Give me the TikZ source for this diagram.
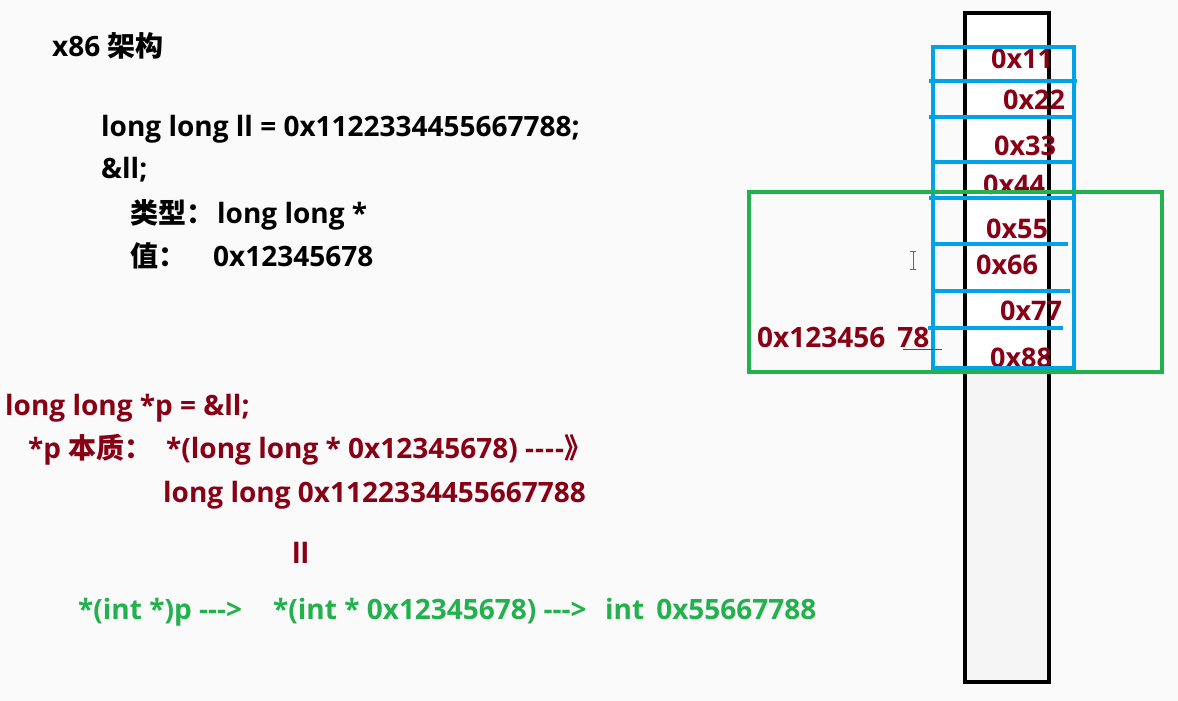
\documentclass[tikz,border=0pt]{standalone}
\usepackage{fontspec}
\setmainfont{Open Sans}
\newfontfamily\cjk{Noto Sans CJK SC}
\usepackage{tikz}
\usetikzlibrary{positioning}

\definecolor{memred}{RGB}{136,0,21}
\definecolor{memblue}{RGB}{0,162,232}
\definecolor{memgreen}{RGB}{34,177,76}

\tikzset{
    codetxt/.style={anchor=base west, inner sep=0pt, font=\bfseries\fontsize{28}{34}\selectfont},
    cellval/.style={anchor=base, inner sep=0pt, text=memred, font=\bfseries\fontsize{27}{32}\selectfont},
    blueline/.style={draw=memblue, line width=4pt},
}

\newcommand{\bytecell}[3]{
    \node[cellval] (cell#1) at (#2,#3) {0x#1};
}

\begin{document}
\begin{tikzpicture}[x=1pt,y=-1pt]

\useasboundingbox[fill=white!98!black] (0,0) rectangle (1178,701);

% -------------------------
% Memory
% -------------------------
\draw[line width=4pt, fill=white] (965,13) rectangle (1049,682);
\fill[black!4] (967,374) rectangle (1047,680);

\bytecell{11}{1022}{69}
\bytecell{22}{1034}{110}
\bytecell{33}{1025}{155}
\bytecell{44}{1014}{194}
\bytecell{55}{1017}{238}
\bytecell{66}{1007}{274}
\bytecell{77}{1031}{320}
\bytecell{88}{1021}{367}

\draw[blueline] (933,47) rectangle (1074,368);
\foreach \ly/\lx/\rx in {81/929/1077, 117/929/1075, 162/933/1073, 198/929/1075,
                         244/933/1068, 291/933/1070, 328/928/1063} {
    \draw[blueline] (\lx,\ly) -- (\rx,\ly);
}

% the int window
\draw[draw=memgreen, line width=4pt] (749,192) rectangle (1162,372);

\node[codetxt, text=memred] (addr) at (757,347) {0x123456\hspace{12pt}78};
\coordinate (ulstart) at (903,349);
\coordinate (ulend) at (942,349);
\draw[black!70, line width=1pt] (ulstart) -- (ulend);

% mouse cursor
\draw[black!60, line width=1pt] (913,251) -- (913,269)
    (910,251) -- (916,251) (910,269) -- (916,269);

% -------------------------
% Declarations
% -------------------------
\node[codetxt] (arch) at (52,57) {x86 {\cjk 架构}};
\node[codetxt] (decl) at (101,136) {long long ll = 0x1122334455667788;};
\node[codetxt] (addrof) at (101,178) {\&ll;};
\node[codetxt] (typelbl) at (130,223) {\cjk 类型：};
\node[codetxt] (typeval) at (217,223) {long long *};
\node[codetxt] (vallbl) at (130,266) {\cjk 值：};
\node[codetxt] (valval) at (213,266) {0x12345678};

% -------------------------
% Dereference
% -------------------------
\node[codetxt, text=memred] (ptr) at (5,415) {long long *p = \&ll;};
\node[codetxt, text=memred] (deref) at (28,458) {*p {\cjk 本质：}};
\node[codetxt, text=memred] (derefexpr) at (166,458) {*(long long * 0x12345678) -\kern1pt-\kern1pt-\kern1pt-{\cjk 》}};
\node[codetxt, text=memred] (derefval) at (163,502) {long long 0x1122334455667788};
\node[codetxt, text=memred] (llname) at (292,563) {ll};

\node[codetxt, text=memgreen] (cast) at (78,619) {*(int *)p -{}-{}-{\textgreater}};
\node[codetxt, text=memgreen] (castexpr) at (273,619) {*(int * 0x12345678) -{}-{}-{\textgreater}};
\node[codetxt, text=memgreen] (castval) at (605,619) {int\hspace{12pt}0x55667788};

\end{tikzpicture}
\end{document}
